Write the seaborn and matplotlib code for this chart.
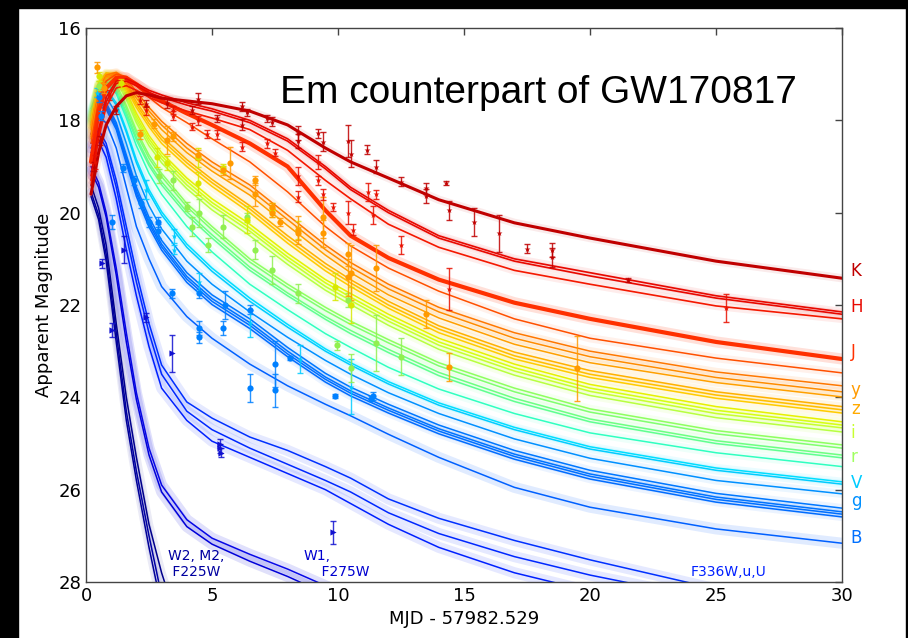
import numpy as np
import pandas as pd
import matplotlib
matplotlib.use("Agg")
import matplotlib.pyplot as plt
import seaborn as sns

# model time grid (days since merger)
T = [0.2, 0.5, 0.8, 1.2, 1.6, 2.0, 2.5, 3.0, 4.0, 5.0, 6.5, 8.0, 9.5, 10.5, 12.0, 14.0, 17.0, 20.0, 25.0, 30.0]
nan = np.nan

# model light curves, grouped per band
K_CURVES = [[19.6, 18.7, 18.1, 17.7, 17.47, 17.4, 17.45, 17.52, 17.58, 17.64, 17.8, 18.1, 18.6, 18.9, 19.25, 19.72, 20.22, 20.55, 21.05, 21.42]]
H_CURVES = [
    [19.2, 18.2, 17.5, 17.15, 17.1, 17.2, 17.35, 17.45, 17.62, 17.75, 18.0, 18.4, 19.0, 19.45, 19.95, 20.5, 21.0, 21.3, 21.8, 22.15],
    [19.3, 18.3, 17.6, 17.2, 17.15, 17.25, 17.4, 17.5, 17.67, 17.8, 18.05, 18.45, 19.05, 19.5, 20.0, 20.55, 21.05, 21.37, 21.85, 22.2],
    [19.4, 18.4, 17.7, 17.3, 17.25, 17.35, 17.5, 17.62, 17.8, 17.95, 18.2, 18.65, 19.3, 19.7, 20.25, 20.75, 21.25, 21.55, 22.02, 22.3],
]
J_CURVES = [
    [18.9, 17.8, 17.3, 17.08, 17.08, 17.22, 17.42, 17.58, 17.85, 18.1, 18.5, 19.0, 19.95, 20.5, 20.98, 21.45, 21.95, 22.3, 22.8, 23.17],
    [18.5, 17.55, 17.15, 17.0, 17.05, 17.25, 17.5, 17.72, 18.05, 18.4, 18.9, 19.55, 20.3, 20.72, 21.2, 21.7, 22.3, 22.72, 23.15, 23.47],
]
Y_CURVES = [
    [18.3, 17.35, 17.02, 16.96, 17.1, 17.38, 17.72, 18.02, 18.5, 18.9, 19.4, 20.05, 20.7, 21.08, 21.55, 22.05, 22.6, 23.0, 23.45, 23.75],
    [18.35, 17.4, 17.05, 17.0, 17.15, 17.45, 17.8, 18.1, 18.6, 19.0, 19.5, 20.15, 20.8, 21.18, 21.65, 22.15, 22.72, 23.12, 23.57, 23.88],
    [18.4, 17.45, 17.08, 17.03, 17.2, 17.52, 17.88, 18.2, 18.7, 19.1, 19.62, 20.28, 20.92, 21.3, 21.78, 22.28, 22.85, 23.25, 23.68, 23.99],
]
Z_CURVES = [
    [18.1, 17.25, 16.98, 16.98, 17.22, 17.6, 18.0, 18.35, 18.85, 19.28, 19.85, 20.5, 21.1, 21.45, 21.92, 22.45, 23.02, 23.42, 23.88, 24.2],
    [18.15, 17.28, 17.0, 17.02, 17.27, 17.66, 18.07, 18.42, 18.92, 19.35, 19.92, 20.58, 21.18, 21.52, 22.0, 22.52, 23.1, 23.5, 23.95, 24.27],
    [18.2, 17.3, 17.03, 17.06, 17.32, 17.72, 18.14, 18.5, 19.0, 19.43, 20.0, 20.66, 21.26, 21.6, 22.07, 22.6, 23.17, 23.57, 24.02, 24.34],
]
I_CURVES = [
    [17.95, 17.18, 16.97, 17.03, 17.38, 17.85, 18.33, 18.7, 19.25, 19.7, 20.25, 20.88, 21.45, 21.75, 22.2, 22.72, 23.28, 23.72, 24.2, 24.53],
    [18.0, 17.2, 17.0, 17.07, 17.43, 17.92, 18.4, 18.77, 19.32, 19.78, 20.33, 20.96, 21.52, 21.83, 22.28, 22.8, 23.36, 23.8, 24.28, 24.6],
    [18.05, 17.23, 17.03, 17.11, 17.48, 17.98, 18.47, 18.84, 19.4, 19.85, 20.4, 21.03, 21.6, 21.9, 22.35, 22.87, 23.43, 23.87, 24.35, 24.66],
    [18.1, 17.26, 17.06, 17.15, 17.54, 18.05, 18.55, 18.92, 19.48, 19.94, 20.5, 21.12, 21.68, 21.99, 22.44, 22.96, 23.52, 23.96, 24.44, 24.75],
]
R_CURVES = [
    [17.85, 17.22, 17.07, 17.22, 17.68, 18.22, 18.75, 19.15, 19.8, 20.3, 21.0, 21.55, 22.05, 22.35, 22.75, 23.25, 23.8, 24.25, 24.72, 25.03],
    [17.9, 17.25, 17.1, 17.27, 17.74, 18.28, 18.82, 19.22, 19.87, 20.37, 21.07, 21.62, 22.12, 22.42, 22.82, 23.32, 23.88, 24.32, 24.79, 25.1],
    [17.95, 17.3, 17.15, 17.33, 17.82, 18.37, 18.92, 19.33, 19.98, 20.48, 21.18, 21.74, 22.25, 22.55, 22.96, 23.46, 24.02, 24.47, 24.94, 25.25],
    [18.0, 17.33, 17.18, 17.38, 17.88, 18.43, 18.98, 19.4, 20.05, 20.55, 21.25, 21.8, 22.31, 22.62, 23.03, 23.53, 24.09, 24.53, 25.0, 25.31],
    [17.75, 17.3, 17.2, 17.42, 17.95, 18.55, 19.15, 19.6, 20.3, 20.85, 21.55, 22.1, 22.62, 22.92, 23.35, 23.82, 24.35, 24.77, 25.2, 25.5],
]
V_CURVES = [
    [17.8, 17.38, 17.32, 17.62, 18.2, 18.85, 19.5, 19.98, 20.68, 21.2, 21.85, 22.42, 22.95, 23.25, 23.66, 24.12, 24.65, 25.07, 25.53, 25.83],
    [17.85, 17.42, 17.36, 17.67, 18.26, 18.92, 19.57, 20.05, 20.75, 21.27, 21.92, 22.48, 23.0, 23.3, 23.71, 24.17, 24.7, 25.12, 25.58, 25.88],
]
G_CURVES = [
    [17.9, 17.5, 17.5, 17.85, 18.5, 19.2, 19.85, 20.35, 21.05, 21.55, 22.15, 22.7, 23.2, 23.5, 23.9, 24.35, 24.9, 25.32, 25.8, 26.09],
    [17.95, 17.58, 17.62, 18.05, 18.75, 19.45, 20.1, 20.6, 21.3, 21.78, 22.3, 22.92, 23.48, 23.78, 24.15, 24.6, 25.15, 25.58, 26.08, 26.4],
    [17.98, 17.62, 17.67, 18.1, 18.82, 19.52, 20.18, 20.68, 21.38, 21.86, 22.38, 23.0, 23.56, 23.86, 24.23, 24.68, 25.23, 25.66, 26.16, 26.48],
    [18.02, 17.66, 17.71, 18.15, 18.87, 19.58, 20.24, 20.74, 21.44, 21.92, 22.44, 23.06, 23.61, 23.91, 24.28, 24.73, 25.28, 25.71, 26.21, 26.53],
    [18.05, 17.7, 17.76, 18.2, 18.93, 19.65, 20.31, 20.81, 21.51, 21.99, 22.51, 23.12, 23.67, 23.97, 24.34, 24.79, 25.34, 25.77, 26.27, 26.59],
]
B_CURVES = [[18.3, 17.95, 18.05, 18.6, 19.45, 20.3, 21.0, 21.6, 22.25, 22.72, 23.28, 23.75, 24.15, 24.4, 24.8, 25.3, 25.95, 26.38, 26.85, 27.16]]
U_CURVES = [
    [18.5, 18.2, 18.5, 19.3, 20.3, 21.3, 22.4, 23.3, 24.1, 24.45, 24.86, 25.15, 25.5, 25.75, 26.2, 26.62, 27.1, 27.52, 28.15, 28.7],
    [18.6, 18.3, 18.6, 19.45, 20.5, 21.5, 22.6, 23.5, 24.3, 24.7, 25.1, 25.45, 25.8, 26.05, 26.5, 26.95, 27.45, 27.85, 28.4, 28.9],
    [18.7, 18.45, 18.8, 19.7, 20.8, 21.8, 22.9, 23.8, 24.5, 24.95, 25.3, 25.65, 26.0, 26.3, 26.75, 27.25, 27.8, 28.2, 28.8, 29.3],
]
W1_CURVES = [
    [19.0, 19.35, 20.0, 21.2, 22.6, 23.9, 25.1, 25.9, 26.65, 27.05, 27.4, 27.72, 28.08, 28.3, 28.7, 29.2, 29.8, 30.3, 31.0, 31.5],
    [19.1, 19.45, 20.1, 21.35, 22.8, 24.05, 25.25, 26.05, 26.8, 27.18, 27.55, 27.88, 28.25, 28.5, 28.9, 29.4, 30.0, 30.5, 31.2, 31.7],
]
W2_CURVES = [
    [19.55, 20.05, 20.9, 22.6, 24.3, 25.6, 27.0, 28.3, nan, nan, nan, nan, nan, nan, nan, nan, nan, nan, nan, nan],
    [19.65, 20.15, 21.05, 22.8, 24.5, 25.8, 27.25, 28.55, nan, nan, nan, nan, nan, nan, nan, nan, nan, nan, nan, nan],
    [19.4, 19.9, 20.7, 22.4, 24.0, 25.3, 26.75, 27.8, 29.5, nan, nan, nan, nan, nan, nan, nan, nan, nan, nan, nan],
]

K_COLORS = ["#c00000"]
H_COLORS = ["#e80800", "#e80800", "#f41800"]
J_COLORS = ["#ff3000", "#ff5000"]
Y_COLORS = ["#ff7800", "#ff8c00", "#ffa000"]
Z_COLORS = ["#ffb000", "#ffbe00", "#ffcc00"]
I_COLORS = ["#e8f000", "#d8ff10", "#c8ff30", "#b8ff40"]
R_COLORS = ["#90ff60", "#80ff70", "#70ff80", "#60ff90", "#30ffc0"]
V_COLORS = ["#00e0ff", "#00ccff"]
G_COLORS = ["#0090ff", "#0078ff", "#0074ff", "#0070ff", "#006cff"]
B_COLORS = ["#0060ff"]
U_COLORS = ["#0030ff", "#0028ff", "#0020ff"]
W1_COLORS = ["#0808e8", "#0000d8"]
W2_COLORS = ["#0000a8", "#000098", "#00008c"]

# photometry points: time, magnitude, error
K_T = [0.3, 0.55, 1.2, 2.4, 3.2, 4.2, 4.45, 5.2, 6.2, 6.2, 6.4, 7.2, 7.4, 8.4, 8.4, 9.2, 9.4, 10.4, 10.5, 11.15, 11.5, 12.5, 13.5, 13.5, 14.3, 14.4, 15.4, 16.4, 17.5, 18.5, 18.5, 21.5]
K_M = [19.0, 18.43, 17.78, 17.64, 17.63, 17.78, 17.53, 17.96, 17.7, 18.1, 17.83, 17.96, 18.03, 18.28, 18.45, 18.28, 18.46, 18.45, 18.72, 18.64, 19.0, 19.33, 19.47, 19.64, 19.36, 19.95, 20.2, 20.45, 20.78, 20.8, 20.97, 21.46]
K_E = [0.1, 0.1, 0.08, 0.08, 0.1, 0.08, 0.12, 0.08, 0.1, 0.12, 0.08, 0.08, 0.1, 0.15, 0.15, 0.1, 0.2, 0.35, 0.3, 0.1, 0.15, 0.1, 0.12, 0.15, 0.05, 0.2, 0.3, 0.4, 0.1, 0.15, 0.2, 0.05]

H_T = [0.35, 0.9, 2.15, 2.4, 3.45, 3.45, 4.2, 4.45, 4.8, 5.2, 6.2, 7.2, 7.5, 8.4, 8.4, 9.2, 9.2, 9.4, 9.8, 10.4, 10.6, 11.2, 11.5, 11.4, 12.5, 14.4, 25.4]
H_M = [18.9, 17.45, 17.56, 17.78, 17.78, 17.9, 18.14, 18.0, 18.3, 18.3, 18.57, 18.5, 18.7, 19.2, 19.65, 18.9, 19.3, 19.6, 19.88, 20.0, 20.37, 19.55, 19.6, 20.05, 20.7, 21.65, 22.07]
H_E = [0.15, 0.1, 0.08, 0.1, 0.08, 0.1, 0.08, 0.1, 0.08, 0.1, 0.1, 0.1, 0.08, 0.2, 0.12, 0.15, 0.1, 0.12, 0.08, 0.25, 0.12, 0.2, 0.1, 0.2, 0.2, 0.45, 0.3]

O_T = [0.45, 0.7, 2.15, 2.7, 3.2, 3.45, 4.45, 5.45, 5.7, 6.7, 6.7, 7.4, 7.4, 7.7, 8.4, 8.4, 9.4, 9.4, 10.4, 10.4, 10.5, 11.5, 13.5, 14.4, 19.5]
O_M = [16.85, 17.3, 18.3, 18.07, 18.43, 18.35, 18.75, 19.08, 18.93, 19.3, 19.6, 19.88, 20.0, 20.2, 20.45, 20.37, 20.45, 20.1, 20.9, 21.4, 21.3, 21.2, 22.2, 23.34, 23.37]
O_E = [0.12, 0.1, 0.1, 0.1, 0.3, 0.1, 0.1, 0.1, 0.35, 0.1, 0.25, 0.1, 0.1, 0.08, 0.15, 0.3, 0.3, 0.45, 0.25, 0.4, 0.6, 0.5, 0.3, 0.3, 0.7]

YL_T = [0.5, 1.4, 2.8, 3.2, 4.45, 4.45, 5.45, 6.4, 7.4, 8.4, 9.9, 10.5]
YL_M = [17.05, 17.2, 18.8, 18.93, 18.8, 19.36, 19.04, 20.15, 19.95, 20.37, 21.6, 22.0]
YL_E = [0.1, 0.1, 0.2, 0.15, 0.2, 0.25, 0.1, 0.3, 0.15, 0.2, 0.3, 0.4]

GR_T = [0.5, 2.9, 3.45, 4.0, 4.2, 4.5, 4.85, 5.45, 6.4, 6.7, 7.4, 8.4, 9.95, 10.4, 10.5, 11.5, 12.5]
GR_M = [17.25, 19.2, 19.3, 19.87, 20.3, 20.0, 20.7, 20.3, 20.1, 20.8, 21.24, 21.75, 22.87, 21.9, 23.37, 22.82, 23.12]
GR_E = [0.1, 0.15, 0.2, 0.1, 0.2, 0.3, 0.15, 0.25, 0.1, 0.2, 0.3, 0.2, 0.1, 0.15, 0.3, 0.6, 0.4]

CY_T = [0.45, 2.4, 3.5, 3.5, 4.5, 6.5, 8.5, 10.5]
CY_M = [17.4, 19.5, 20.5, 20.8, 21.5, 22.4, 23.17, 23.77]
CY_E = [0.1, 0.2, 0.15, 0.1, 0.2, 0.3, 0.3, 0.6]

BL_T = [0.5, 0.6, 1.03, 1.45, 1.9, 2.2, 2.5, 2.85, 2.85, 3.4, 4.5, 4.5, 4.5, 5.45, 5.5, 6.5, 6.5, 7.5, 7.5, 8.1, 9.9, 11.3, 11.4]
BL_M = [17.5, 17.9, 20.2, 19.03, 19.3, 19.8, 20.2, 20.2, 20.4, 21.75, 21.75, 22.5, 22.7, 22.5, 22.0, 22.1, 23.8, 23.27, 23.85, 23.15, 23.97, 24.03, 23.97]
BL_E = [0.1, 0.1, 0.15, 0.08, 0.1, 0.1, 0.1, 0.1, 0.15, 0.1, 0.1, 0.15, 0.12, 0.15, 0.3, 0.1, 0.3, 0.5, 0.35, 0.05, 0.05, 0.05, 0.08]

UV_T = [0.63, 1.03, 1.5, 2.4, 3.4, 5.3, 5.3, 5.35, 9.8]
UV_M = [21.1, 22.54, 20.8, 22.27, 23.05, 25.0, 25.1, 25.2, 26.92]
UV_E = [0.1, 0.15, 0.3, 0.1, 0.4, 0.1, 0.1, 0.1, 0.25]

# band labels on the right edge
LABELS = ["K", "H", "J", "y", "z", "i", "r", "V", "g", "B"]
LABEL_MAG = [21.26, 22.04, 23.02, 23.85, 24.25, 24.77, 25.29, 25.85, 26.25, 27.05]
LABEL_COLORS = ["#c00000", "#e80800", "#ff3000", "#ff9a00", "#ffaa00", "#c8ff30", "#a0ff60", "#00ccff", "#0090ff", "#0070ff"]

sns.set_style("white")
plt.rcParams["font.family"] = ["DejaVu Sans"]
plt.rcParams["xtick.direction"] = "in"
plt.rcParams["ytick.direction"] = "in"
plt.rcParams["text.color"] = "black"
plt.rcParams["axes.labelcolor"] = "black"
plt.rcParams["xtick.labelcolor"] = "black"
plt.rcParams["ytick.labelcolor"] = "black"

fig = plt.figure(figsize=(9.08, 6.38), dpi=100)
ax = fig.add_axes([86 / 908, 56 / 638, 756 / 908, 554 / 638])

# black frame from the screenshot
for rect in [(0, 0, 18 / 908, 1), (0, 1 - 8 / 638, 1, 8 / 638), (906 / 908, 0, 2 / 908, 1)]:
    fig.add_artist(plt.Rectangle(rect[:2], rect[2], rect[3], transform=fig.transFigure,
                                 color="black", zorder=-5))


def draw_band(curves, colors, lw=1.1, glow=0.10, glow_lw=6):
    for vals, c in zip(curves, colors):
        sns.lineplot(x=T, y=vals, color=c, lw=glow_lw, alpha=glow, ax=ax)
        sns.lineplot(x=T, y=vals, color=c, lw=lw, ax=ax)


draw_band(W2_CURVES, W2_COLORS, glow=0.08)
draw_band(W1_CURVES, W1_COLORS, glow=0.12, glow_lw=8)
draw_band(U_CURVES, U_COLORS, glow=0.10, glow_lw=8)
draw_band(B_CURVES, B_COLORS, glow=0.12, glow_lw=8)
draw_band(G_CURVES, G_COLORS, glow=0.08)
draw_band(V_CURVES, V_COLORS, glow=0.08)
draw_band(R_CURVES, R_COLORS, glow=0.08)
draw_band(I_CURVES, I_COLORS, glow=0.10)
draw_band(Z_CURVES, Z_COLORS, glow=0.10)
draw_band(Y_CURVES, Y_COLORS, glow=0.10)
draw_band(J_CURVES[1:], J_COLORS[1:], glow=0.08)
draw_band(J_CURVES[:1], J_COLORS[:1], lw=3.0, glow=0.15, glow_lw=8)
draw_band(H_CURVES, H_COLORS, lw=1.2, glow=0.08)
draw_band(K_CURVES, K_COLORS, lw=2.2, glow=0.08)


def draw_points(t, m, e, color, marker):
    ax.errorbar(t, m, yerr=e, fmt="none", ecolor=color, elinewidth=1.0, capsize=2.5, capthick=1.0, alpha=0.85)
    sns.scatterplot(x=t, y=m, color=color, marker=marker, s=20, linewidth=0, ax=ax, zorder=4)


draw_points(UV_T, UV_M, UV_E, "#1010d0", ">")
draw_points(BL_T, BL_M, BL_E, "#0080ff", "o")
draw_points(CY_T, CY_M, CY_E, "#00ccff", "*")
draw_points(GR_T, GR_M, GR_E, "#90f050", "o")
draw_points(YL_T, YL_M, YL_E, "#d8e800", "o")
draw_points(O_T, O_M, O_E, "#ff9a00", "o")
draw_points(H_T, H_M, H_E, "#e81000", "*")
draw_points(K_T, K_M, K_E, "#c00000", "*")

for name, mag, c in zip(LABELS, LABEL_MAG, LABEL_COLORS):
    ax.text(30.35, mag, name, color=c, fontsize=12, va="center", ha="left", clip_on=False)

ax.text(3.25, 27.93, "W2, M2,\n F225W", color="#0000a0", fontsize=10, va="bottom", ha="left")
ax.text(8.65, 27.93, "W1,\n    F275W", color="#0000d0", fontsize=10, va="bottom", ha="left")
ax.text(24.0, 27.93, "F336W,u,U", color="#0020ff", fontsize=10, va="bottom", ha="left")

ax.text(0.2566, 0.8646, "Em counterpart of GW170817", transform=ax.transAxes, color="black",
        fontsize=28, family="Liberation Sans", va="baseline", ha="left")

ax.set_xlim(0, 30)
ax.set_ylim(28, 16)
ax.set_xticks([0, 5, 10, 15, 20, 25, 30])
ax.set_yticks([16, 18, 20, 22, 24, 26, 28])
ax.tick_params(axis="both", which="major", labelsize=13, length=5, width=1,
               top=True, right=True, color="#444444", labelcolor="black")
for sp in ax.spines.values():
    sp.set_color("#444444")
    sp.set_linewidth(1.0)
ax.set_xlabel("MJD - 57982.529", fontsize=13, color="black")
ax.set_ylabel("Apparent Magnitude", fontsize=13, color="black")

fig.savefig("out.png", dpi=100, facecolor="white")
